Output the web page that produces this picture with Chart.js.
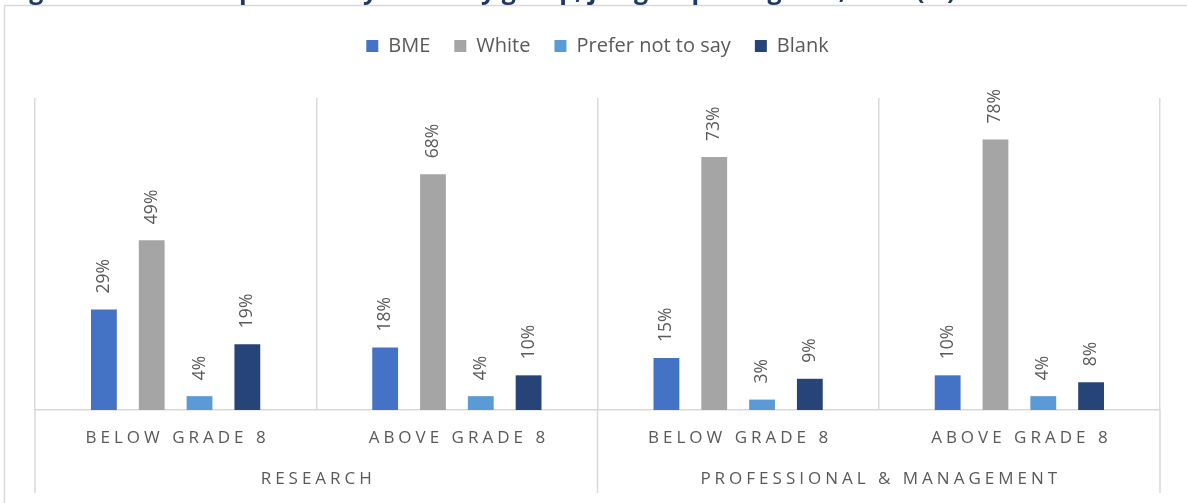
<!DOCTYPE html>
<html lang="en">
<head>
    <meta charset="UTF-8">
    <title>Staff by ethnicity group</title>
    <script src="https://cdn.jsdelivr.net/npm/chart.js"></script>
    <style>
        html, body { margin: 0; padding: 0; background: #fff; }
        .chart-box { width: 1187px; height: 503px; position: relative; }
    </style>
</head>
<body>
    <div class="chart-box">
        <canvas id="ethnicityChart"></canvas>
    </div>

    <script>
        // values (percent)
        const categories = ['BELOW GRADE 8', 'ABOVE GRADE 8', 'BELOW GRADE 8', 'ABOVE GRADE 8'];
        const groups = ['RESEARCH', 'PROFESSIONAL & MANAGEMENT'];
        const bme = [29, 18, 15, 10];
        const white = [49, 68, 73, 78];
        const preferNot = [4, 4, 3, 4];
        const blank = [19, 10, 9, 8];

        const titleText = 'Figure 4: Staff composition by ethnicity group, job group and grade, 2020 (%)';
        const FONT = '"Open Sans", "Liberation Sans", sans-serif';
        const lineGrey = '#d9d9d9';
        const textGrey = '#595959';

        // give the legend some extra room underneath
        const legendGap = {
            id: 'legendGap',
            afterInit(chart) {
                const fit = chart.legend.fit;
                chart.legend.fit = function () {
                    fit.bind(chart.legend)();
                    this.height += 32;
                };
            }
        };

        // frame, cut-off title, rotated value labels, two-level axis labels
        const extras = {
            id: 'extras',
            beforeDraw(chart) {
                const ctx = chart.ctx;
                ctx.save();
                ctx.strokeStyle = lineGrey;
                ctx.lineWidth = 1.5;
                ctx.beginPath();
                ctx.moveTo(4.5, 503);
                ctx.lineTo(4.5, 5.5);
                ctx.lineTo(1187, 5.5);
                ctx.stroke();

                ctx.fillStyle = '#1f3864';
                ctx.font = 'bold 25px ' + FONT;
                ctx.textBaseline = 'alphabetic';
                ctx.fillText(titleText, 8, -1);
                ctx.restore();
            },
            afterDatasetsDraw(chart) {
                const ctx = chart.ctx;
                ctx.save();
                ctx.fillStyle = textGrey;
                ctx.font = '17.5px ' + FONT;
                ctx.textAlign = 'left';
                ctx.textBaseline = 'middle';
                chart.data.datasets.forEach((ds, i) => {
                    chart.getDatasetMeta(i).data.forEach((bar, j) => {
                        ctx.save();
                        ctx.translate(bar.x, bar.y - 16);
                        ctx.rotate(-Math.PI / 2);
                        ctx.fillText(ds.data[j] + '%', 0, 0);
                        ctx.restore();
                    });
                });

                const x = chart.scales.x;
                const area = chart.chartArea;
                ctx.font = '17px ' + FONT;
                ctx.letterSpacing = '4px';
                ctx.textAlign = 'center';
                categories.forEach((c, i) => {
                    ctx.fillText(c, x.getPixelForTick(i) + 2, area.bottom + 28);
                });
                groups.forEach((g, k) => {
                    const mid = (x.getPixelForTick(k * 2) + x.getPixelForTick(k * 2 + 1)) / 2;
                    ctx.fillText(g, mid + 2, area.bottom + 69);
                });

                // group separators under the axis
                const split = (x.getPixelForTick(1) + x.getPixelForTick(2)) / 2;
                ctx.strokeStyle = lineGrey;
                ctx.lineWidth = 1.5;
                ctx.beginPath();
                [area.left, split, area.right].forEach(px => {
                    ctx.moveTo(px, area.bottom);
                    ctx.lineTo(px, area.bottom + 83);
                });
                ctx.stroke();
                ctx.restore();
            }
        };

        new Chart(document.getElementById('ethnicityChart'), {
            type: 'bar',
            data: {
                labels: categories,
                datasets: [
                    { label: 'BME', data: bme, backgroundColor: '#4472c4' },
                    { label: 'White', data: white, backgroundColor: '#a5a5a5' },
                    { label: 'Prefer not to say', data: preferNot, backgroundColor: '#5b9bd5' },
                    { label: 'Blank', data: blank, backgroundColor: '#264478' }
                ]
            },
            options: {
                responsive: true,
                maintainAspectRatio: false,
                animation: false,
                datasets: {
                    bar: { barPercentage: 0.54, categoryPercentage: 0.68 }
                },
                layout: {
                    padding: { left: 35, right: 27, top: 12, bottom: 10 }
                },
                plugins: {
                    legend: {
                        position: 'top',
                        labels: {
                            boxWidth: 12,
                            boxHeight: 12,
                            padding: 24,
                            color: textGrey,
                            font: { family: FONT, size: 20 }
                        }
                    },
                    tooltip: { enabled: false }
                },
                scales: {
                    x: {
                        grid: {
                            offset: true,
                            color: lineGrey,
                            lineWidth: 1.5,
                            drawTicks: false
                        },
                        border: { color: lineGrey, width: 1.5 },
                        ticks: { display: false },
                        afterFit(s) { s.height = 83; }
                    },
                    y: {
                        display: false,
                        min: 0,
                        max: 90
                    }
                }
            },
            plugins: [legendGap, extras]
        });
    </script>
</body>
</html>
